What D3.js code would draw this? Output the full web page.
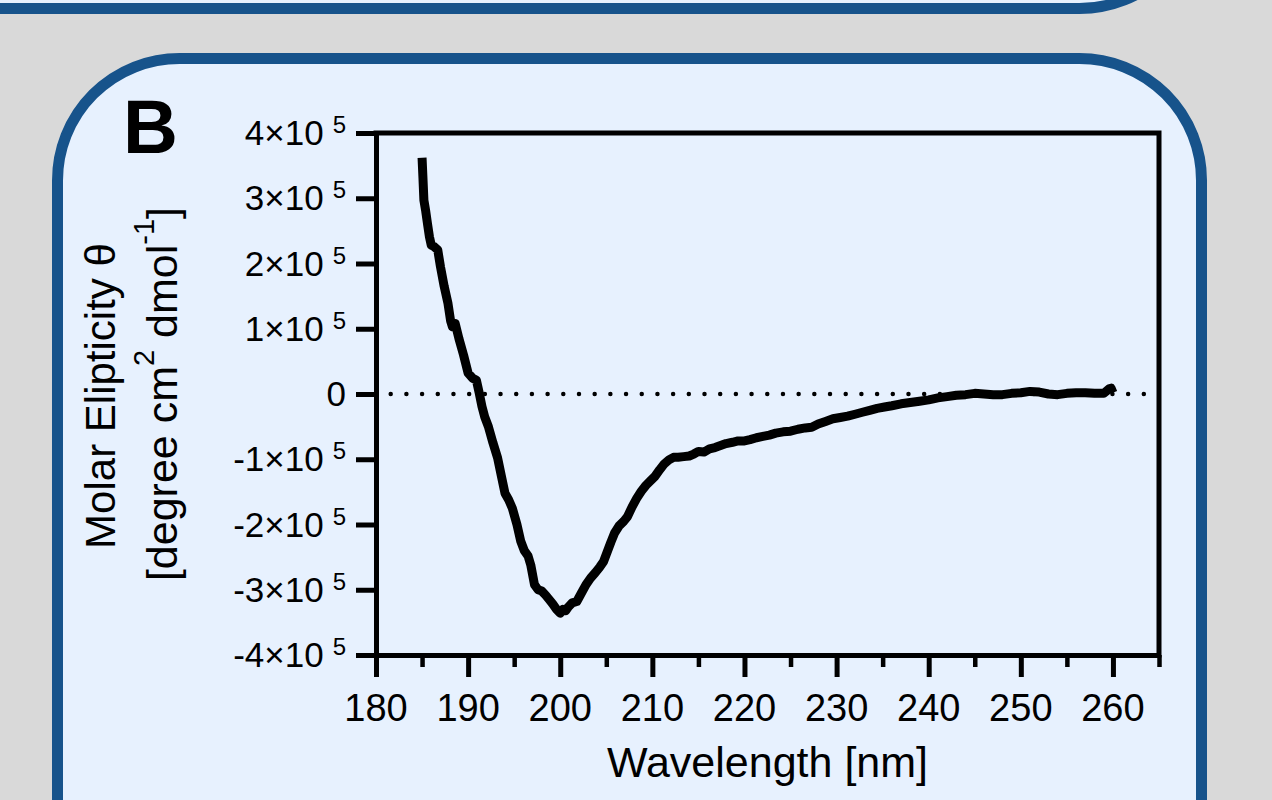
<!DOCTYPE html>
<html lang="en">
<head>
<meta charset="UTF-8">
<title>CD spectrum - panel B</title>
<style>
  body { margin: 0; background: #d9d9d9; }
  svg { display: block; font-family: "Liberation Sans", Arial, sans-serif; }
  .axis path, .axis line { stroke: #000; fill: none; }
  .axis text { display: none; }
</style>
</head>
<body>
<svg id="chart"></svg>
<script src="https://cdnjs.cloudflare.com/ajax/libs/d3/7.8.5/d3.min.js"></script>
<script>
// wavelength in nm, molar ellipticity in units of 10^5 deg cm2 dmol-1
var wavelength = [185.0, 185.1, 185.2, 185.4, 185.6, 185.8, 186.0, 186.3, 186.7, 187.0,
  187.4, 187.8, 188.1, 188.3, 188.6, 189.0, 189.5, 190.0, 190.5, 190.9,
  191.2, 191.5, 191.8, 192.2, 192.7, 193.2, 193.6, 194.0, 194.4, 194.8,
  195.3, 195.7, 196.1, 196.5, 196.8, 197.2, 197.6, 198.0, 198.4, 198.8,
  199.2, 199.6, 200.0, 200.3, 200.6, 200.9, 201.3, 201.8, 202.3, 202.8,
  203.3, 203.8, 204.3, 204.7, 205.1, 205.5, 205.9, 206.4, 206.9, 207.3,
  207.8, 208.3, 208.8, 209.3, 209.8, 210.3, 210.8, 211.3, 211.8, 212.3,
  212.8, 213.4, 214.0, 214.5, 215.0, 215.6, 216.2, 216.8, 217.4, 218.0,
  218.7, 219.3, 220.0, 220.6, 221.3, 222.0, 222.7, 223.4, 224.2, 225.0,
  225.8, 226.6, 227.3, 228.0, 228.8, 229.6, 230.4, 231.2, 232.0, 232.8,
  233.6, 234.4, 235.2, 236.0, 237.0, 238.0, 239.0, 240.0, 241.0, 242.0,
  243.0, 244.0, 245.0, 246.0, 247.0, 248.0, 249.0, 250.0, 251.0, 252.0,
  253.0, 254.0, 255.0, 256.0, 257.0, 258.0, 259.0, 259.6, 259.8, 260.0];
var theta = [3.62, 3.30, 2.97, 2.80, 2.60, 2.41, 2.28, 2.26, 2.21, 1.95,
  1.65, 1.40, 1.12, 1.03, 1.08, 0.85, 0.60, 0.32, 0.24, 0.21,
  0.02, -0.19, -0.35, -0.50, -0.75, -0.98, -1.25, -1.52, -1.62, -1.75,
  -2.00, -2.25, -2.40, -2.48, -2.62, -2.92, -3.00, -3.02, -3.08, -3.15,
  -3.22, -3.30, -3.36, -3.30, -3.32, -3.26, -3.20, -3.18, -3.05, -2.92,
  -2.82, -2.74, -2.65, -2.57, -2.42, -2.27, -2.13, -2.02, -1.95, -1.88,
  -1.73, -1.60, -1.49, -1.40, -1.33, -1.26, -1.16, -1.07, -1.01, -0.97,
  -0.97, -0.96, -0.95, -0.92, -0.88, -0.89, -0.84, -0.82, -0.79, -0.76,
  -0.74, -0.72, -0.72, -0.70, -0.67, -0.65, -0.63, -0.60, -0.58, -0.57,
  -0.54, -0.52, -0.51, -0.46, -0.42, -0.38, -0.36, -0.34, -0.31, -0.28,
  -0.25, -0.22, -0.20, -0.18, -0.15, -0.13, -0.11, -0.09, -0.06, -0.04,
  -0.02, -0.01, 0.01, 0.00, -0.01, -0.01, 0.01, 0.02, 0.04, 0.03,
  0.00, -0.01, 0.01, 0.02, 0.02, 0.01, 0.01, 0.08, 0.09, 0.02];

var xMajorTicks = [180, 190, 200, 210, 220, 230, 240, 250, 260];
var xMinorTicks = [185, 195, 205, 215, 225, 235, 245, 255, 265];
var yTicks = [-4, -3, -2, -1, 0, 1, 2, 3, 4];

var width = 1272, height = 800;
var panelFill = "#e7f1fe", panelStroke = "#17538b";

var svg = d3.select("#chart")
  .attr("width", width)
  .attr("height", height);

svg.append("rect")
  .attr("width", width).attr("height", height)
  .attr("fill", "#d9d9d9");

// bottom of panel A, only its lower edge shows
svg.append("rect")
  .attr("x", -200).attr("y", -400)
  .attr("width", 1401.5).attr("height", 408.5)
  .attr("rx", 122).attr("ry", 122)
  .attr("fill", panelFill)
  .attr("stroke", panelStroke)
  .attr("stroke-width", 11);

// panel B
svg.append("rect")
  .attr("x", 57.5).attr("y", 58.5)
  .attr("width", 1144).attr("height", 1000)
  .attr("rx", 122).attr("ry", 122)
  .attr("fill", panelFill)
  .attr("stroke", panelStroke)
  .attr("stroke-width", 11);

svg.append("text")
  .attr("x", 123).attr("y", 153)
  .style("font-size", "76px")
  .style("font-weight", "bold")
  .text("B");

var x = d3.scaleLinear().domain([180, 265]).range([376, 1159]);
var y = d3.scaleLinear().domain([-4, 4]).range([655, 133]);

// frame top and right
svg.append("path")
  .attr("d", "M" + x(180) + "," + y(4) + "H" + x(265) + "V" + y(-4))
  .attr("fill", "none")
  .attr("stroke", "#000")
  .attr("stroke-width", 5)
  .attr("stroke-linecap", "square");

// zero line, dotted
svg.append("line")
  .attr("x1", 390.7).attr("x2", 1147)
  .attr("y1", y(0)).attr("y2", y(0))
  .attr("stroke", "#000")
  .attr("stroke-width", 4.5)
  .attr("stroke-linecap", "round")
  .attr("stroke-dasharray", "0,15.69");

var xAxis = svg.append("g")
  .attr("class", "axis")
  .attr("transform", "translate(0," + y(-4) + ")")
  .call(d3.axisBottom(x).tickValues(xMajorTicks).tickSize(22).tickSizeOuter(0));
xAxis.select(".domain").attr("stroke-width", 5);
xAxis.selectAll(".tick line").attr("stroke-width", 5);

var xMinor = svg.append("g")
  .attr("class", "axis")
  .attr("transform", "translate(0," + y(-4) + ")")
  .call(d3.axisBottom(x).tickValues(xMinorTicks).tickSize(12).tickSizeOuter(0));
xMinor.select(".domain").remove();
xMinor.selectAll(".tick line").attr("stroke-width", 4.5);

var yAxis = svg.append("g")
  .attr("class", "axis")
  .attr("transform", "translate(" + x(180) + ",0)")
  .call(d3.axisLeft(y).tickValues(yTicks).tickSize(20).tickSizeOuter(0));
yAxis.select(".domain").attr("stroke-width", 5);
yAxis.selectAll(".tick line").attr("stroke-width", 5);

// tick labels
svg.selectAll(".xlabel")
  .data(xMajorTicks).enter()
  .append("text")
  .attr("class", "xlabel")
  .attr("x", function(d) { return x(d); })
  .attr("y", 721)
  .attr("text-anchor", "middle")
  .style("font-size", "38px")
  .text(function(d) { return d; });

var ylab = svg.selectAll(".ylabel")
  .data(yTicks).enter()
  .append("text")
  .attr("class", "ylabel")
  .attr("x", 346)
  .attr("y", function(d) { return y(d) + 12; })
  .attr("text-anchor", "end")
  .style("font-size", "35px");
ylab.append("tspan")
  .text(function(d) { return d === 0 ? "0" : (d < 0 ? "-" : "") + Math.abs(d) + "\u00d710"; });
ylab.filter(function(d) { return d !== 0; })
  .append("tspan")
  .attr("dx", 9).attr("dy", -12)
  .style("font-size", "24px")
  .text("5");

// axis titles
svg.append("text")
  .attr("x", x(222.5)).attr("y", 777)
  .attr("text-anchor", "middle")
  .style("font-size", "43px")
  .text("Wavelength [nm]");

svg.append("text")
  .attr("transform", "translate(115,396) rotate(-90)")
  .attr("text-anchor", "middle")
  .style("font-size", "42px")
  .text("Molar Elipticity \u03b8");

var yt2 = svg.append("text")
  .attr("transform", "translate(177,394) rotate(-90)")
  .attr("text-anchor", "middle")
  .style("font-size", "43px");
yt2.append("tspan").text("[degree cm");
yt2.append("tspan").attr("dy", -23).style("font-size", "29px").text("2");
yt2.append("tspan").attr("dy", 23).text(" dmol");
yt2.append("tspan").attr("dy", -23).style("font-size", "29px").text("-1");
yt2.append("tspan").attr("dy", 23).text("]");

// spectrum
var line = d3.line()
  .x(function(d, i) { return x(wavelength[i]); })
  .y(function(d) { return y(d); });

svg.append("path")
  .datum(theta)
  .attr("d", line)
  .attr("fill", "none")
  .attr("stroke", "#000")
  .attr("stroke-width", 9)
  .attr("stroke-linejoin", "round");
</script>
</body>
</html>
